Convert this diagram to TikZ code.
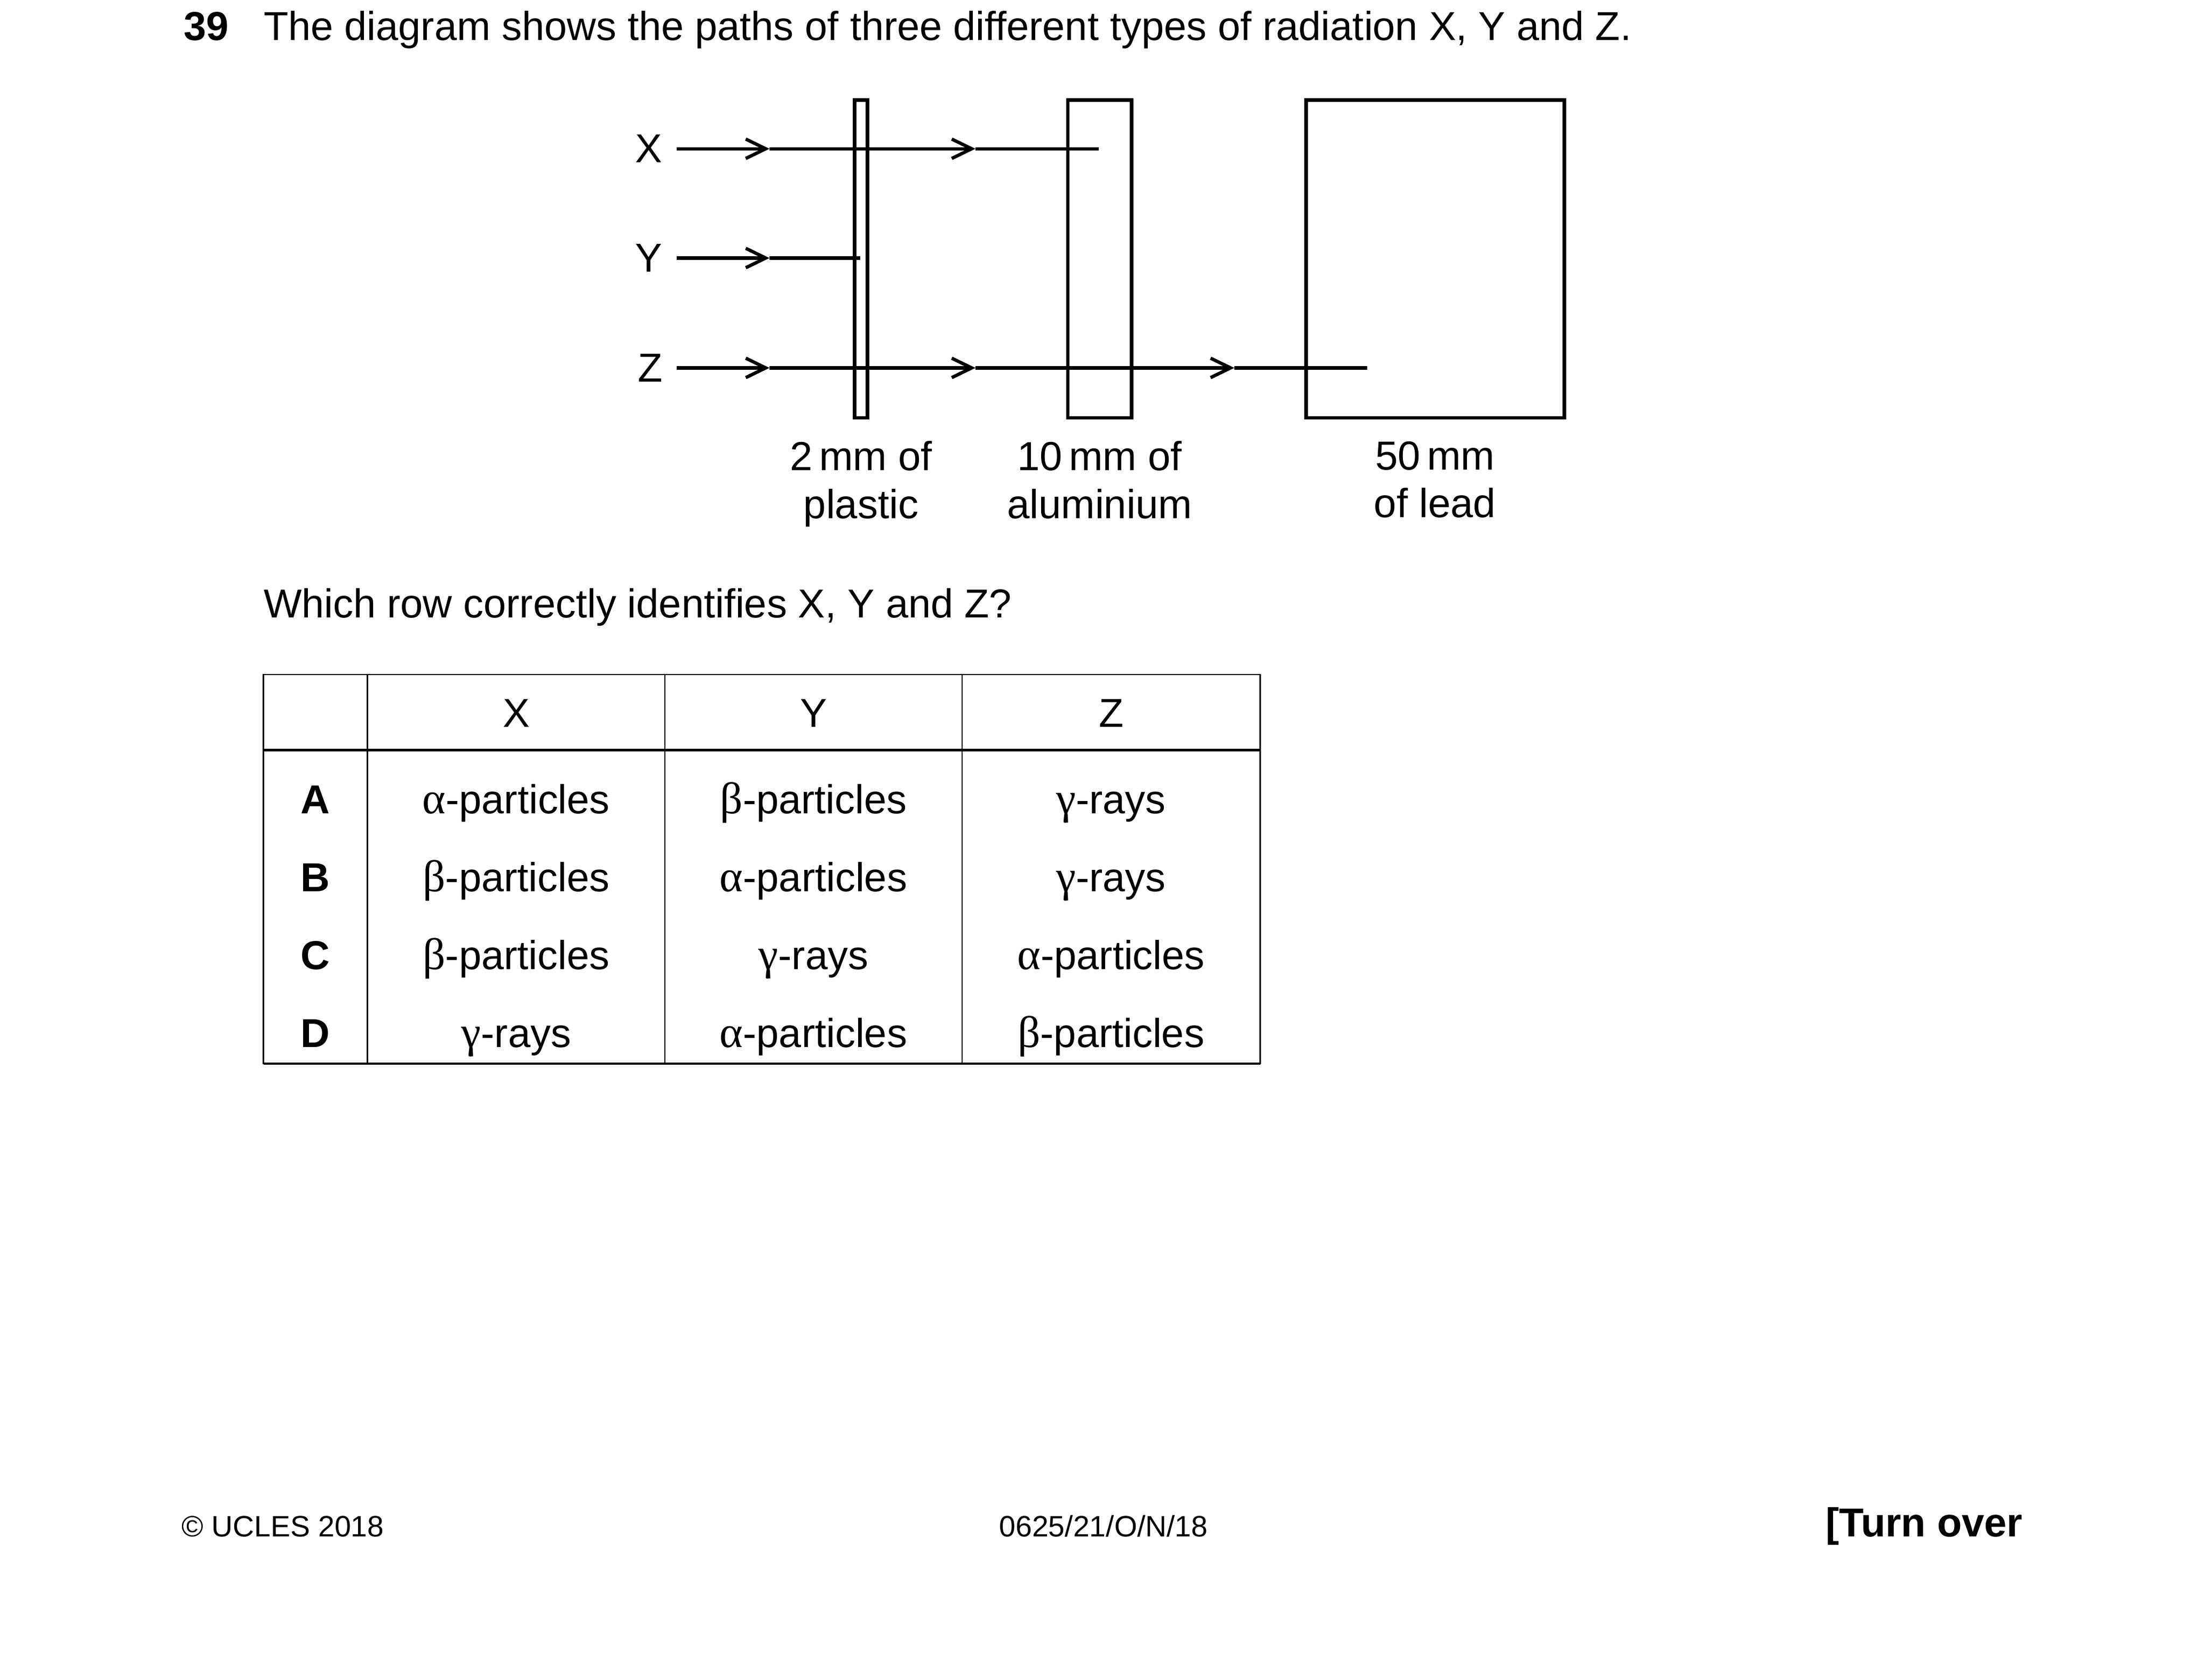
\documentclass[tikz,border=0pt,11pt]{standalone}
\usepackage{fontspec}
\setmainfont{Liberation Sans}
\newfontfamily\grk[Scale=1.1]{Liberation Serif}
\usetikzlibrary{positioning,arrows.meta}

\begin{document}
\begin{tikzpicture}[
  sheet/.style={rectangle, draw, line width=1pt, inner sep=0pt, minimum height=3.023cm},
  ray/.style={line width=0.9pt},
  rayarrow/.style={ray, -{Straight Barb[length=1.9mm, width=1.85mm, sharp]}},
  sheetlabel/.style={align=center, font=\fontsize{11pt}{13pt}\selectfont},
  txt/.style={anchor=base west, inner sep=0pt},
  cell/.style={anchor=base, inner sep=0pt},
  small/.style={font=\fontsize{8pt}{10pt}\selectfont},
  thinrule/.style={line width=0.4pt},
  thickrule/.style={line width=0.6pt}
]
\useasboundingbox (0,0) rectangle (20.99,-15.99);

% Question
\node[txt, font=\bfseries] (num) at (1.742,-0.381) {39};
\node[txt] (question) at (2.503,-0.381) {The diagram shows the paths of three different types of radiation X, Y and Z.};

% Absorbers
\node[sheet, minimum width=0.122cm] (plastic) at (8.197,-2.466) {};
\node[sheet, minimum width=0.605cm] (alu) at (10.467,-2.466) {};
\node[sheet, minimum width=2.459cm] (lead) at (13.660,-2.466) {};

\node[sheetlabel, below=0.07cm of plastic] (plasticlabel) {2\,mm of\\plastic};
\node[sheetlabel, below=0.07cm of alu] (alulabel) {10\,mm of\\aluminium};
\node[sheetlabel, below=0.07cm of lead] (leadlabel) {50\,mm\\of lead};

% Radiation labels
\node[anchor=east] (X) at (6.441,-1.416) {X};
\node[anchor=east] (Y) at (6.441,-2.456) {Y};
\node[anchor=east] (Z) at (6.441,-3.502) {Z};

\coordinate (x1) at (7.325,-1.416);
\coordinate (x2) at (9.286,-1.416);
\coordinate (xend) at (10.460,-1.416);
\coordinate (y1) at (7.325,-2.456);
\coordinate (yend) at (8.189,-2.456);
\coordinate (z1) at (7.325,-3.502);
\coordinate (z2) at (9.286,-3.502);
\coordinate (z3) at (11.750,-3.502);
\coordinate (zend) at (13.015,-3.502);

% Paths
\draw[rayarrow] (X.east) -- (x1);
\draw[rayarrow] (x1) -- (x2);
\draw[ray] (x2) -- (xend);

\draw[rayarrow] (Y.east) -- (y1);
\draw[ray] (y1) -- (yend);

\draw[rayarrow] (Z.east) -- (z1);
\draw[rayarrow] (z1) -- (z2);
\draw[rayarrow] (z2) -- (z3);
\draw[ray] (z3) -- (zend);

\node[txt] (ask) at (2.503,-5.878) {Which row correctly identifies X, Y and Z?};

% Table
\draw[thinrule] (2.507,-6.421) rectangle (11.996,-10.122);
\draw[thinrule] (3.499,-6.421) -- (3.499,-10.122);
\draw[thinrule] (6.329,-6.421) -- (6.329,-10.122);
\draw[thinrule] (9.159,-6.421) -- (9.159,-10.122);
\draw[thickrule] (2.507,-7.140) -- (11.996,-7.140);
\draw[thickrule] (2.507,-10.122) -- (11.996,-10.122);

\node[cell] (hX) at (4.914,-6.919) {X};
\node[cell] (hY) at (7.744,-6.919) {Y};
\node[cell] (hZ) at (10.577,-6.919) {Z};

\node[cell, font=\bfseries] (A) at (3.002,-7.744) {A};
\node[cell] (AX) at (4.914,-7.744) {{\grk α}-particles};
\node[cell] (AY) at (7.744,-7.744) {{\grk β}-particles};
\node[cell] (AZ) at (10.577,-7.744) {{\grk γ}-rays};

\node[cell, font=\bfseries] (B) at (3.002,-8.485) {B};
\node[cell] (BX) at (4.914,-8.485) {{\grk β}-particles};
\node[cell] (BY) at (7.744,-8.485) {{\grk α}-particles};
\node[cell] (BZ) at (10.577,-8.485) {{\grk γ}-rays};

\node[cell, font=\bfseries] (C) at (3.002,-9.225) {C};
\node[cell] (CX) at (4.914,-9.225) {{\grk β}-particles};
\node[cell] (CY) at (7.744,-9.225) {{\grk γ}-rays};
\node[cell] (CZ) at (10.577,-9.225) {{\grk α}-particles};

\node[cell, font=\bfseries] (D) at (3.002,-9.967) {D};
\node[cell] (DX) at (4.914,-9.967) {{\grk γ}-rays};
\node[cell] (DY) at (7.744,-9.967) {{\grk α}-particles};
\node[cell] (DZ) at (10.577,-9.967) {{\grk β}-particles};

% Footer
\node[txt, small] (copy) at (1.722,-14.625) {© UCLES 2018};
\node[cell, small] (code) at (10.505,-14.625) {0625/21/O/N/18};
\node[anchor=base east, inner sep=0pt, font=\bfseries] (turn) at (19.26,-14.625) {[Turn over};

\end{tikzpicture}
\end{document}
